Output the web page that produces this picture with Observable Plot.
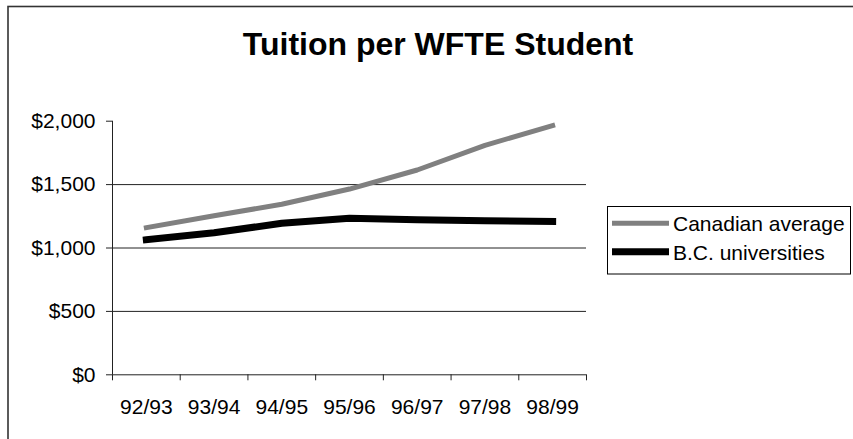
<!DOCTYPE html>
<html>
<head>
<meta charset="utf-8">
<script src="https://cdn.jsdelivr.net/npm/d3@7"></script>
<script src="https://cdn.jsdelivr.net/npm/@observablehq/plot@0.6"></script>
<style>
  html, body { margin: 0; padding: 0; background: #fff; }
  #chart { position: relative; width: 853px; height: 439px; overflow: hidden; }
</style>
</head>
<body>
<div id="chart"></div>
<script>
// Academic years on the category axis
const years = ["92/93", "93/94", "94/95", "95/96", "96/97", "97/98", "98/99"];
// Tuition per weighted full-time-equivalent student, dollars
const canadianAverage = [1160, 1255, 1345, 1465, 1615, 1810, 1965];
const bcUniversities = [1065, 1120, 1195, 1235, 1222, 1215, 1210];
const yTicks = [0, 500, 1000, 1500, 2000];
const gridValues = [500, 1000, 1500];
const seriesNames = ["Canadian average", "B.C. universities"];
const title = "Tuition per WFTE Student";

const font = "'Liberation Sans', Arial, Helvetica, sans-serif";
const grey = "#808080";
const labelSize = 21;

// Categories sit on integer positions; ticks fall on the boundaries between them
const xDomain = [-0.5, years.length - 0.5];
const boundaries = d3.range(xDomain[0], xDomain[1] + 0.01, 1);

const rows = (values, series) => values.map((v, i) => ({i, value: v, series}));
const canRows = rows(canadianAverage, seriesNames[0]);
const bcRows = rows(bcUniversities, seriesNames[1]);

const plot = Plot.plot({
  width: 853,
  height: 439,
  marginLeft: 112,
  marginRight: 267,
  marginTop: 120.7,
  marginBottom: 64.7,
  style: {fontFamily: font, fontSize: labelSize + "px", color: "#000", background: "#fff"},
  x: {type: "linear", domain: xDomain, label: null},
  y: {domain: [0, 2000], label: null},
  marks: [
    Plot.ruleY(gridValues, {stroke: "#222", strokeWidth: 1}),
    Plot.ruleY([0], {stroke: "#222", strokeWidth: 1}),
    Plot.ruleX([xDomain[0]], {stroke: "#222", strokeWidth: 1}),
    Plot.axisY({ticks: yTicks, tickFormat: d3.format("$,"), tickSize: 6, tickPadding: 11,
                stroke: "#222", strokeOpacity: 1, fontSize: labelSize, label: null}),
    Plot.axisX({ticks: boundaries, tickFormat: () => "", tickSize: 6, stroke: "#222",
                strokeOpacity: 1, label: null}),
    Plot.axisX({ticks: d3.range(years.length), tickFormat: i => years[i], tickSize: 0,
                tickPadding: 24, fontSize: labelSize, label: null}),
    Plot.line(canRows, {x: "i", y: "value", stroke: grey, strokeWidth: 5, strokeLinecap: "square"}),
    Plot.line(bcRows, {x: "i", y: "value", stroke: "#000", strokeWidth: 7, strokeLinecap: "square"})
  ]
});

document.getElementById("chart").appendChild(plot);

const svg = d3.select(plot);

// Outer chart border
svg.append("rect")
  .attr("x", 8).attr("y", 6.5).attr("width", 900).attr("height", 500)
  .attr("fill", "none").attr("stroke", "#333").attr("stroke-width", 1.6);

// Title
svg.append("text")
  .attr("x", 438).attr("y", 55)
  .attr("text-anchor", "middle")
  .attr("font-family", font)
  .attr("font-size", 32).attr("font-weight", "bold")
  .attr("fill", "#000")
  .text(title);

// Legend
const legend = svg.append("g")
  .attr("font-family", font).attr("font-size", labelSize).attr("text-anchor", "start");
legend.append("rect")
  .attr("x", 607.5).attr("y", 206.5).attr("width", 243).attr("height", 67.5)
  .attr("fill", "#fff").attr("stroke", "#000").attr("stroke-width", 1);
const legendItems = [
  {name: seriesNames[0], color: grey, width: 5, y: 223.3, base: 230.5},
  {name: seriesNames[1], color: "#000", width: 7, y: 251.7, base: 260}
];
legendItems.forEach(d => {
  legend.append("line")
    .attr("x1", 612).attr("x2", 669).attr("y1", d.y).attr("y2", d.y)
    .attr("stroke", d.color).attr("stroke-width", d.width);
  legend.append("text")
    .attr("x", 673).attr("y", d.base)
    .attr("text-anchor", "start").attr("fill", "#000").text(d.name);
});
</script>
</body>
</html>
